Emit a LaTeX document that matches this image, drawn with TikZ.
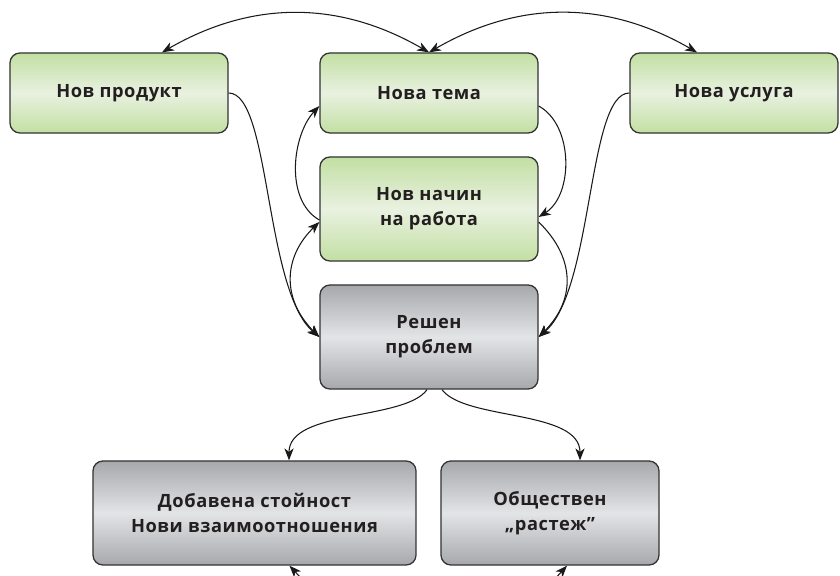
\documentclass[tikz,border=0pt]{standalone}
\usepackage{fontspec}
\setmainfont{Open Sans}[Language=Bulgarian, LetterSpace=3]
\usepackage{tikz}
\usetikzlibrary{arrows.meta,positioning}
\definecolor{ngreen}{RGB}{194,223,163}
\definecolor{ngreenlight}{RGB}{233,241,224}
\definecolor{ngray}{RGB}{167,168,172}
\definecolor{ngraylight}{RGB}{227,228,230}
\definecolor{nborder}{RGB}{51,51,51}
\definecolor{ntext}{RGB}{35,31,32}
\tikzstyle{box} = [draw=nborder, line width=0.9pt, rounded corners=0.25cm, align=center, inner sep=0pt, text=ntext, font=\fontsize{13}{18}\selectfont\bfseries]
\tikzstyle{greenbox} = [box, top color=ngreen, bottom color=ngreen, middle color=ngreenlight, minimum width=5.45cm]
\tikzstyle{graybox} = [box, top color=ngray, bottom color=ngray, middle color=ngraylight, minimum height=2.6cm]
\tikzstyle{link} = [->, >={Stealth[length=8.5pt,width=6.5pt,inset=2.5pt]}, line width=0.75pt, color=black!90]

\begin{document}
\begin{tikzpicture}[x=0.025cm, y=0.025cm]
\useasboundingbox (0,0) rectangle (840,575);
\clip (0,0) rectangle (840,575);

% Top row
\node[greenbox, minimum height=2cm] (prod) at (119,482) {Нов продукт};
\node[greenbox, minimum height=2cm] (tema) at (429,482) {Нова тема};
\node[greenbox, minimum height=2cm, minimum width=5.2cm] (usluga) at (734,482) {Нова услуга};

% Middle column
\node[greenbox, minimum height=2.6cm] (nachin) at (429,366) {Нов начин\\на работа};
\node[graybox, minimum width=5.45cm] (reshen) at (429,238) {Решен\\проблем};

% Results
\node[graybox, minimum width=8.075cm] (dobav) at (254.5,62) {Добавена стойност\\Нови взаимоотношения};
\node[graybox, minimum width=5.45cm] (obsht) at (550,62) {Обществен\\„растеж”};
\coordinate (dobavin) at (335,-40);
\coordinate (obshtin) at (522,-40);

% Arcs over the top
\draw[link, <->] ([xshift=1.075cm]prod.north) to[bend left=30] (tema.north);
\draw[link, <->] (tema.north) to[bend left=30] ([xshift=-0.925cm]usluga.north);

% Left side
\draw[link] (prod.east) .. controls +(42,0) and +(-55,47) .. (reshen.west);
\draw[link] ([yshift=-0.275cm]nachin.west) .. controls +(-35,20) and +(-27,-29) .. ([yshift=-0.325cm]tema.west);
\draw[link, <->] ([yshift=-0.325cm]nachin.west) .. controls +(-37,-36) and +(-37,37) .. (reshen.west);

% Right side
\draw[link] ([yshift=-0.325cm]tema.east) .. controls +(35,-19) and +(35,22) .. ([yshift=-0.2cm]nachin.east);
\draw[link] ([yshift=-0.325cm]nachin.east) .. controls +(37,-36) and +(37,37) .. (reshen.east);
\draw[link] (usluga.west) .. controls +(-42,0) and +(55,47) .. (reshen.east);

% Down to the results
\draw[link] ([xshift=-0.05cm]reshen.south) .. controls +(-22,-31) and +(0,51) .. ([xshift=0.8625cm]dobav.north);
\draw[link] ([xshift=0.325cm]reshen.south) .. controls +(23,-31) and +(0,51) .. ([xshift=0.75cm]obsht.north);
\draw[link] (dobavin) -- ([xshift=0.875cm]dobav.south);
\draw[link] (obshtin) -- ([xshift=0.425cm]obsht.south);
\end{tikzpicture}
\end{document}
